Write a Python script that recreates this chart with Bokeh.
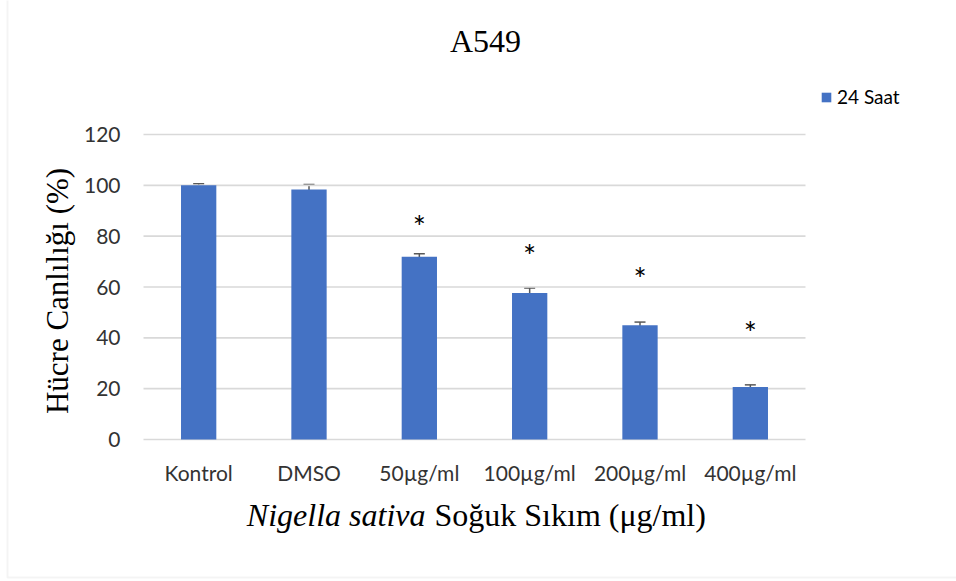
from bokeh.plotting import figure
from bokeh.models import (ColumnDataSource, Range1d, FixedTicker, Whisker, TeeHead,
                          Label, Legend, LegendItem, BoxAnnotation)
from bokeh.core.properties import value
from bokeh.embed import file_html
from bokeh.resources import INLINE

# A549 viability after 24 h with cold-pressed Nigella sativa oil
categories = ["Kontrol", "DMSO", "50µg/ml", "100µg/ml", "200µg/ml", "400µg/ml"]
viability = [100.0, 98.4, 71.9, 57.6, 45.0, 20.7]
error = [0.6, 1.9, 1.2, 2.0, 1.2, 0.8]
sig_marks = ["", "", "*", "*", "*", "*"]
sig_y = [float("nan"), float("nan"), 86.2, 75.0, 65.8, 44.6]
y_ticks = [0, 20, 40, 60, 80, 100, 120]
series_name = "24 Saat"

BAR = "#4472C4"
GRID = "#d9d9d9"
SANS = "Lato"
SERIF = "Liberation Serif"

W, H = 956, 581
# plot area inside the canvas (pixels): left, right, top, bottom
PL, PR, PT, PB = 143, 805, 134, 439
n = len(categories)
ymax = y_ticks[-1]
px_x = (PR - PL) / n
px_y = (PB - PT) / ymax

xs = [i + 0.5 for i in range(n)]
src = ColumnDataSource(dict(
    x=xs, top=viability,
    upper=[v + e for v, e in zip(viability, error)],
    lower=[v - e for v, e in zip(viability, error)],
    sig=sig_marks, sig_y=sig_y,
))

# the frame spans the whole canvas; axes are pinned to the data origin
p = figure(width=W, height=H, output_backend="svg", toolbar_location=None,
           x_range=Range1d(-PL / px_x, n + (W - PR) / px_x),
           y_range=Range1d(-(H - PB) / px_y, ymax + PT / px_y),
           min_border=0, min_border_left=0, min_border_right=0,
           min_border_top=0, min_border_bottom=0)
p.outline_line_color = None
p.background_fill_color = "white"
p.border_fill_color = "white"

xa, ya = p.xaxis[0], p.yaxis[0]
xa.fixed_location = 0
ya.fixed_location = 0
xa.ticker = FixedTicker(ticks=xs)
xa.major_label_overrides = {x: c for x, c in zip(xs, categories)}
ya.ticker = FixedTicker(ticks=y_ticks)
for ax in (xa, ya):
    ax.axis_line_color = None
    ax.major_tick_line_color = None
    ax.minor_tick_line_color = None
    ax.major_label_text_font = SANS
    ax.major_label_text_font_size = "21px"
    ax.major_label_text_color = "#333333"
xa.major_label_standoff = 14
ya.major_label_standoff = 17
ya.axis_label = "Hücre Canlılığı (%)"
ya.axis_label_text_font = SERIF
ya.axis_label_text_font_size = "31px"
ya.axis_label_text_font_style = "normal"
ya.axis_label_text_color = "black"
ya.axis_label_standoff = 6

# horizontal gridlines across the plot area only
p.xgrid.grid_line_color = None
p.ygrid.grid_line_color = None
p.segment(x0=[0] * len(y_ticks), x1=[n] * len(y_ticks), y0=y_ticks, y1=y_ticks,
          line_color=GRID, line_width=1.6)

# bars with error bars
bars = p.vbar(x="x", top="top", width=0.32, source=src, fill_color=BAR, line_color=None)
p.add_layout(Whisker(source=src, base="x", upper="upper", lower="lower",
                     line_color="#595959", line_width=1.5,
                     upper_head=TeeHead(size=11, line_color="#595959", line_width=1.5),
                     lower_head=TeeHead(size=11, line_color="#595959", line_width=1.5)))

# significance asterisks
p.text(x="x", y="sig_y", text="sig", source=src, text_align="center",
       text_baseline="middle", text_font=value(SANS), text_font_size="31px",
       text_color="black", y_offset=6)

# chart title
p.add_layout(Label(x=(485 - PL) / px_x, y=(PB - 40) / px_y, text="A549",
                   text_align="center", text_baseline="middle",
                   text_font=SERIF, text_font_size="32px", text_color="black"))
# x-axis title: italic species name followed by plain text
xt_x, xt_y = (425 - PL) / px_x, (PB - 514) / px_y
p.add_layout(Label(x=xt_x, y=xt_y, text="Nigella sativa", text_align="right",
                   text_baseline="middle", text_font=SERIF, text_font_size="32px",
                   text_font_style="italic", text_color="black"))
p.add_layout(Label(x=xt_x, y=xt_y, x_offset=9, text="Soğuk Sıkım (μg/ml)",
                   text_align="left", text_baseline="middle", text_font=SERIF,
                   text_font_size="32px", text_color="black"))

# legend
legend = Legend(items=[LegendItem(label=series_name, renderers=[bars])],
                location=(820, H - 108), orientation="vertical",
                label_text_font=SANS, label_text_font_size="19px",
                label_text_color="black", label_height=20, label_standoff=5,
                glyph_width=12, glyph_height=12, padding=0, spacing=0, margin=0,
                border_line_color=None, background_fill_alpha=0)
p.add_layout(legend, "center")

# chart area border
p.add_layout(BoxAnnotation(left=7, right=1100, top=-20, bottom=577,
                           left_units="canvas", right_units="canvas",
                           top_units="canvas", bottom_units="canvas",
                           fill_alpha=0, line_color=GRID, line_width=2))

open("out.html", "w").write(file_html(p, INLINE))
